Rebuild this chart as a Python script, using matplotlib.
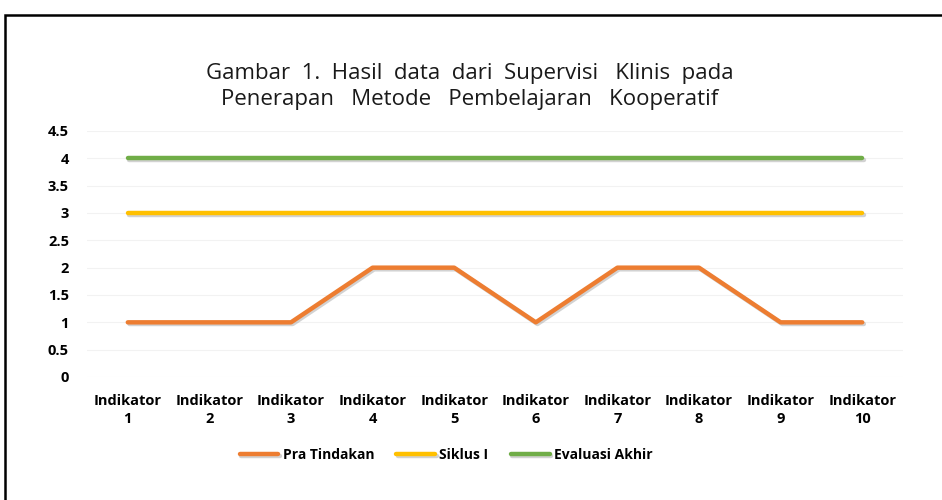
import matplotlib
matplotlib.use("Agg")
import matplotlib.pyplot as plt
import matplotlib.patheffects as pe
from matplotlib.patches import Rectangle

categories = [f"Indikator\n{i}" for i in range(1, 11)]
pra_tindakan = [1, 1, 1, 2, 2, 1, 2, 2, 1, 1]
siklus_1 = [3, 3, 3, 3, 3, 3, 3, 3, 3, 3]
evaluasi_akhir = [4, 4, 4, 4, 4, 4, 4, 4, 4, 4]
yticks = [0, 0.5, 1, 1.5, 2, 2.5, 3, 3.5, 4, 4.5]
ytick_labels = ["0", "0.5", "1", "1.5", "2", "2.5", "3", "3.5", "4", "4.5"]

plt.rcParams['font.family'] = ['Open Sans', 'DejaVu Sans']

fig = plt.figure(figsize=(9.42, 5.0), dpi=100)
ax = fig.add_axes([87/942, 1-377/500, (903-87)/942, (377-131)/500])

x = list(range(len(categories)))
shadow = [pe.SimpleLineShadow(offset=(1.2, -1.2), shadow_color='gray', alpha=0.35), pe.Normal()]
series = [("Pra Tindakan", pra_tindakan, "#ED7D31"),
          ("Siklus I", siklus_1, "#FFC000"),
          ("Evaluasi Akhir", evaluasi_akhir, "#70AD47")]
for name, vals, col in series:
    ax.plot(x, vals, color=col, lw=3.2, solid_capstyle='round', solid_joinstyle='round',
            label=name, path_effects=shadow)

ax.set_xlim(-0.5, len(categories) - 0.5)
ax.set_ylim(0, 4.5)
ax.set_yticks(yticks)
ax.set_yticklabels(ytick_labels, fontweight='bold', fontsize=10.5)
ax.set_xticks(x)
ax.set_xticklabels(categories, fontweight='bold', fontsize=10.5, linespacing=1.35)
ax.tick_params(length=0)
ax.tick_params(axis='y', pad=13)
ax.tick_params(axis='x', pad=12)
ax.grid(axis='y', color='#f2f2f2', lw=0.8)
for s in ax.spines.values():
    s.set_visible(False)
ax.set_axisbelow(True)

fig.text(470/942, 1-73/500, "Gambar  1.  Hasil  data  dari  Supervisi   Klinis  pada",
         ha='center', va='center', fontsize=16, color='#1a1a1a')
fig.text(470/942, 1-100/500, "Penerapan   Metode   Pembelajaran   Kooperatif",
         ha='center', va='center', fontsize=16, color='#1a1a1a')

leg = fig.legend(loc='center', bbox_to_anchor=(446/942, 1-455/500), ncol=3, frameon=False,
                 prop={'weight': 'bold', 'size': 10}, handlelength=2.8, columnspacing=1.6,
                 handletextpad=0.3)

fig.patches.append(Rectangle((5/942, -0.1), 1.2, 0.97 + 0.1, transform=fig.transFigure,
                             fill=False, edgecolor='black', lw=1.8))

fig.savefig("out.png", dpi=100)
